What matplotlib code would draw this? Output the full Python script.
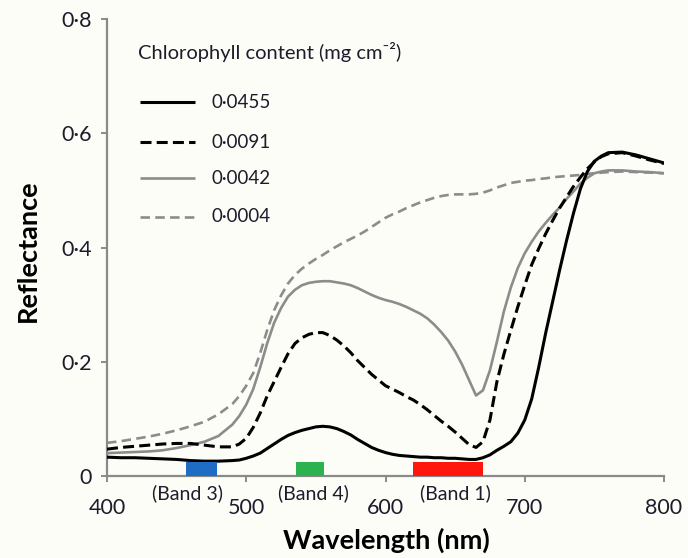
import matplotlib
matplotlib.use('Agg')
import matplotlib.pyplot as plt
from matplotlib.lines import Line2D
from matplotlib.patches import Rectangle
from matplotlib.ticker import FuncFormatter, FixedLocator

# ---------------- data ----------------
wavelength = [400, 410, 420, 430, 440, 450, 460, 470, 480, 490,
              495, 500, 505, 510, 515, 520, 525, 530, 535, 540,
              545, 550, 555, 560, 565, 570, 575, 580, 585, 590,
              595, 600, 605, 610, 615, 620, 625, 630, 635, 640,
              645, 650, 655, 660, 665, 670, 675, 680, 685, 690,
              695, 700, 705, 710, 715, 720, 725, 730, 735, 740,
              745, 750, 755, 760, 770, 780, 790, 800]

refl_0455 = [0.033, 0.032, 0.032, 0.031, 0.030, 0.029, 0.027, 0.026, 0.026, 0.027,
             0.028, 0.031, 0.035, 0.040, 0.048, 0.056, 0.064, 0.071, 0.076, 0.080,
             0.083, 0.086, 0.087, 0.086, 0.083, 0.078, 0.072, 0.064, 0.057, 0.050,
             0.045, 0.041, 0.038, 0.036, 0.035, 0.034, 0.033, 0.033, 0.032, 0.032,
             0.031, 0.031, 0.030, 0.029, 0.029, 0.032, 0.037, 0.045, 0.052, 0.060,
             0.075, 0.098, 0.135, 0.190, 0.250, 0.305, 0.360, 0.412, 0.460, 0.503,
             0.533, 0.551, 0.560, 0.566, 0.567, 0.562, 0.555, 0.548]

refl_0091 = [0.047, 0.050, 0.052, 0.054, 0.056, 0.057, 0.057, 0.054, 0.051, 0.051,
             0.056, 0.066, 0.085, 0.110, 0.140, 0.165, 0.190, 0.214, 0.232, 0.242,
             0.248, 0.251, 0.251, 0.246, 0.238, 0.228, 0.216, 0.202, 0.190, 0.178,
             0.168, 0.158, 0.152, 0.146, 0.139, 0.133, 0.125, 0.116, 0.106, 0.096,
             0.087, 0.077, 0.066, 0.055, 0.050, 0.060, 0.098, 0.165, 0.213, 0.255,
             0.296, 0.334, 0.370, 0.398, 0.424, 0.447, 0.469, 0.488, 0.507, 0.523,
             0.538, 0.550, 0.559, 0.564, 0.566, 0.560, 0.553, 0.547]

refl_0042 = [0.040, 0.041, 0.042, 0.043, 0.045, 0.049, 0.054, 0.060, 0.070, 0.090,
             0.105, 0.125, 0.152, 0.190, 0.232, 0.268, 0.294, 0.314, 0.326, 0.334,
             0.338, 0.340, 0.341, 0.341, 0.339, 0.337, 0.334, 0.329, 0.323, 0.317,
             0.312, 0.308, 0.305, 0.301, 0.296, 0.290, 0.284, 0.276, 0.265, 0.252,
             0.237, 0.218, 0.195, 0.168, 0.141, 0.150, 0.185, 0.235, 0.288, 0.330,
             0.364, 0.390, 0.410, 0.428, 0.443, 0.457, 0.470, 0.485, 0.498, 0.512,
             0.522, 0.530, 0.533, 0.535, 0.535, 0.533, 0.532, 0.530]

refl_0004 = [0.058, 0.061, 0.065, 0.069, 0.074, 0.080, 0.087, 0.095, 0.108, 0.126,
             0.140, 0.158, 0.180, 0.215, 0.255, 0.290, 0.316, 0.337, 0.352, 0.363,
             0.372, 0.380, 0.387, 0.395, 0.402, 0.409, 0.415, 0.421, 0.428, 0.436,
             0.444, 0.452, 0.458, 0.463, 0.469, 0.474, 0.479, 0.483, 0.487, 0.490,
             0.492, 0.493, 0.493, 0.493, 0.494, 0.496, 0.500, 0.505, 0.509, 0.513,
             0.515, 0.517, 0.518, 0.520, 0.521, 0.523, 0.524, 0.525, 0.526, 0.527,
             0.529, 0.530, 0.531, 0.532, 0.533, 0.532, 0.531, 0.530]

series_labels = ['0·0455', '0·0091', '0·0042', '0·0004']
legend_title = 'Chlorophyll content (mg cm⁻²)'

band_names = ['(Band 3)', '(Band 4)', '(Band 1)']
band_start = [457, 536, 620]
band_end = [479, 556, 670]
band_label_x = [458, 548, 650]
band_colors = ['#1f6cc4', '#2db24d', '#ff160d']

x_ticks = [400, 500, 600, 700, 800]
y_ticks = [0, 0.2, 0.4, 0.6, 0.8]

# ---------------- styling ----------------
W, H = 688, 558
FAM = ['Lato', 'DejaVu Sans']
plt.rcParams['font.family'] = FAM
bg = '#fdfdf7'
txt = '#1c1c2c'
gray = '#8c8c8c'

fig = plt.figure(figsize=(W / 100, H / 100), dpi=100, facecolor=bg)
ax_l, ax_r, ax_t, ax_b = 107, 664, 19, 476
ax = fig.add_axes([ax_l / W, 1 - ax_b / H, (ax_r - ax_l) / W, (ax_b - ax_t) / H])
ax.set_facecolor(bg)

styles = [
    dict(color='black', lw=2.2, ls='-', zorder=6),
    dict(color='black', lw=2.2, dashes=(3.6, 1.7), zorder=5),
    dict(color=gray, lw=1.9, ls='-', zorder=4),
    dict(color=gray, lw=1.9, dashes=(3.6, 2.0), zorder=3),
]
series = [refl_0455, refl_0091, refl_0042, refl_0004]
for vals, st in zip(series, styles):
    ax.plot(wavelength, vals, solid_capstyle='butt', dash_capstyle='butt',
            solid_joinstyle='round', **st)

ax.set_xlim(400, 800)
ax.set_ylim(0, 0.8)
for s in ['top', 'right']:
    ax.spines[s].set_visible(False)
for s in ['left', 'bottom']:
    ax.spines[s].set_color('#8a8a8a')
    ax.spines[s].set_linewidth(1.6)

ax.xaxis.set_major_locator(FixedLocator(x_ticks))
ax.yaxis.set_major_locator(FixedLocator(y_ticks))
ax.yaxis.set_major_formatter(FuncFormatter(lambda v, p: '0' if v == 0 else f'{v:.1f}'.replace('.', '·')))
ax.xaxis.set_major_formatter(FuncFormatter(lambda v, p: f'{int(v)}'))
ax.tick_params(axis='x', direction='out', length=4, width=1.4, color='#8a8a8a',
               pad=12, labelsize=15.5, labelcolor=txt)
ax.tick_params(axis='y', direction='out', length=4, width=1.4, color='#8a8a8a',
               pad=7, labelsize=15.5, labelcolor=txt)

# band rectangles and labels
for name, s, e, lx, c in zip(band_names, band_start, band_end, band_label_x, band_colors):
    ax.add_patch(Rectangle((s, 0.0), e - s, 0.024, facecolor=c, edgecolor='none',
                           clip_on=False, zorder=7))
    ax.text(lx, -0.030, name, ha='center', va='center', fontsize=14, color=txt,
            clip_on=False)

# axis labels
fig.text(386 / W, 1 - 540 / H, 'Wavelength (nm)', ha='center', va='center',
         fontsize=19.5, fontweight='bold', color='black')
fig.text(28 / W, 1 - 251 / H, 'Reflectance', ha='center', va='center', rotation=90,
         fontsize=19.5, fontweight='bold', color='black')

# legend (manual)
fig.text(138 / W, 1 - 52 / H, legend_title, ha='left', va='center', fontsize=14.5,
         color=txt, family=FAM)
leg_y = [102, 142, 178, 217]
for lab, st, yy in zip(series_labels, styles, leg_y):
    kw = {k: v for k, v in st.items() if k != 'zorder'}
    ln = Line2D([140 / W, 195 / W], [1 - yy / H, 1 - yy / H], transform=fig.transFigure,
                solid_capstyle='butt', dash_capstyle='butt', **kw)
    fig.add_artist(ln)
    fig.text(211 / W, 1 - yy / H, lab, ha='left', va='center', fontsize=13.5, color=txt)

fig.savefig('out.png', dpi=100, facecolor=bg)
